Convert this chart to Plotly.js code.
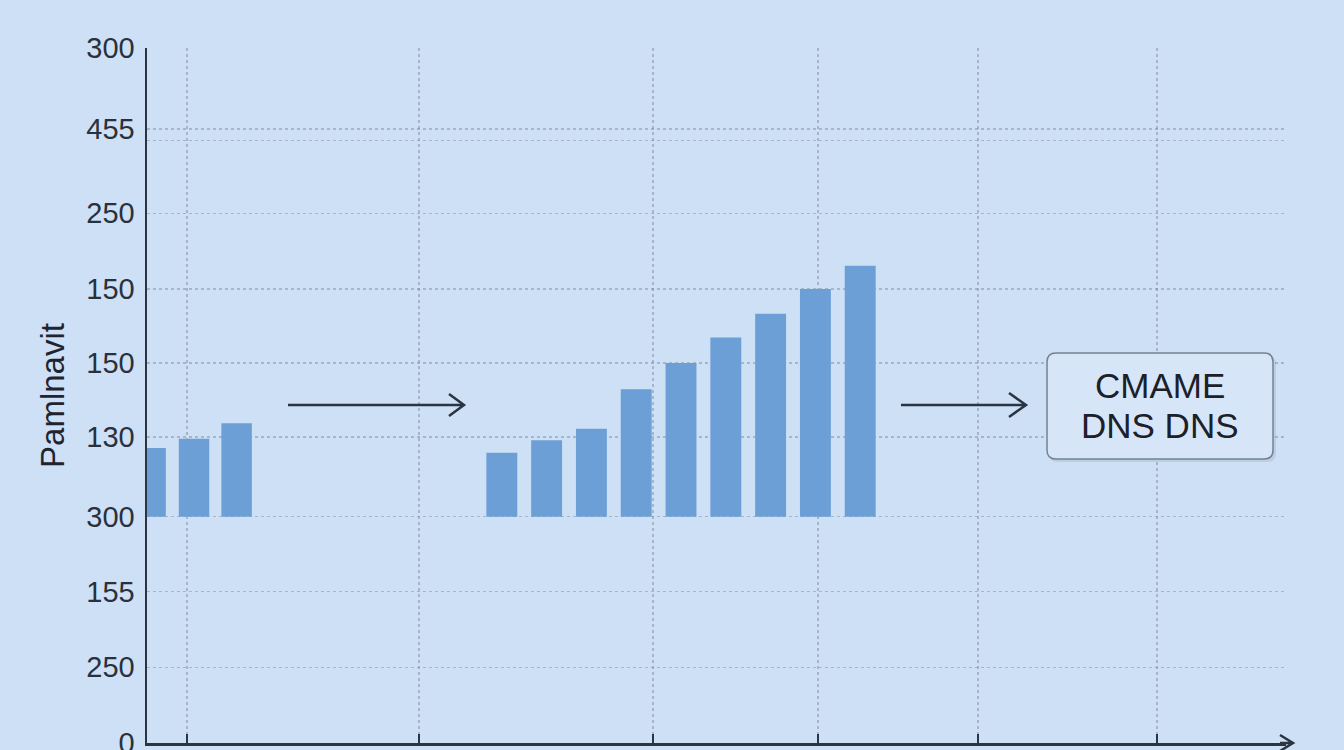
<!DOCTYPE html>
<html>
<head>
<meta charset="utf-8">
<script src="https://cdn.plot.ly/plotly-3.0.1.min.js"></script>
<style>
  html, body { margin: 0; padding: 0; background: #cde0f5; }
  #chart { width: 1344px; height: 750px; }
</style>
</head>
<body>
<div id="chart"></div>
<script>
// values (y in axis units, 0 = bottom line)
const yTickText = ['0', '250', '155', '300', '130', '150', '150', '250', '455', '300'];
const yTickPos = [0, 0.98, 1.96, 2.93, 3.96, 4.92, 5.88, 6.86, 7.95, 9];
const xGridPos = [0.97, 6.15, 11.38, 15.06, 18.63, 22.63];

const barBase = 2.93;
const leftX = [0.16, 1.13, 2.08];
const leftTops = [3.82, 3.94, 4.14];
const midX = [8, 9, 10, 11, 12, 13, 14, 15, 16];
const midTops = [3.76, 3.92, 4.07, 4.58, 4.92, 5.25, 5.56, 5.88, 6.18];

const boxLines = ['CMAME', 'DNS DNS'];
const yTitle = 'Pamlnavit';

// page geometry
const W = 1344, H = 750;
const L = 147, R = 1286, T = 48, B = 743;
const ink = '#2a3442';

// pixel -> paper helpers for the decorations
function px(x) { return (x - L) / (R - L); }
function py(y) { return (B - y) / (B - T); }

function arrowPath(x1, x2, y, back, half) {
  return 'M' + px(x1) + ',' + py(y) + ' L' + px(x2) + ',' + py(y) +
    ' M' + px(x2 - back) + ',' + py(y - half) + ' L' + px(x2) + ',' + py(y) +
    ' L' + px(x2 - back) + ',' + py(y + half);
}

function roundRect(x0, y0, x1, y1, r) {
  const rx = r / (R - L), ry = r / (B - T);
  const a = px(x0), b = px(x1), top = py(y0), bot = py(y1);
  return 'M' + (a + rx) + ',' + top +
    ' L' + (b - rx) + ',' + top + ' Q' + b + ',' + top + ' ' + b + ',' + (top - ry) +
    ' L' + b + ',' + (bot + ry) + ' Q' + b + ',' + bot + ' ' + (b - rx) + ',' + bot +
    ' L' + (a + rx) + ',' + bot + ' Q' + a + ',' + bot + ' ' + a + ',' + (bot + ry) +
    ' L' + a + ',' + (top - ry) + ' Q' + a + ',' + top + ' ' + (a + rx) + ',' + top + ' Z';
}

const barStyle = { color: '#6c9fd5' };

const traces = [
  {
    type: 'bar',
    x: leftX,
    y: leftTops.map(v => v - barBase),
    base: barBase,
    width: 0.68,
    marker: barStyle,
    hoverinfo: 'skip'
  },
  {
    type: 'bar',
    x: midX,
    y: midTops.map(v => v - barBase),
    base: barBase,
    width: 0.69,
    marker: barStyle,
    hoverinfo: 'skip'
  }
];

const gridColor = 'rgba(125,140,160,0.5)';

const layout = {
  width: W,
  height: H,
  margin: { l: L, r: W - R, t: T, b: H - B, pad: 0 },
  paper_bgcolor: '#cde0f5',
  plot_bgcolor: '#cde0f5',
  showlegend: false,
  font: { family: '"Liberation Sans", Arial, sans-serif', color: '#2b313c' },
  xaxis: {
    range: [0.08, 0.08 + (R - L) / 44.8],
    tickmode: 'array',
    tickvals: xGridPos,
    ticktext: xGridPos.map(() => ''),
    ticks: 'inside',
    ticklen: 9,
    tickwidth: 2.5,
    tickcolor: ink,
    showgrid: true,
    gridcolor: gridColor,
    griddash: 'dot',
    gridwidth: 1.5,
    showline: true,
    linecolor: ink,
    linewidth: 2.5,
    zeroline: false,
    fixedrange: true
  },
  yaxis: {
    range: [0, 9],
    tickmode: 'array',
    tickvals: yTickPos,
    ticktext: yTickText,
    ticks: '',
    ticklabelstandoff: 4,
    ticklabeloverflow: 'allow',
    tickfont: { size: 29, color: '#2b313c' },
    showgrid: true,
    gridcolor: gridColor,
    griddash: 'dot',
    gridwidth: 1.5,
    minor: { tickvals: [7.8], showgrid: true, gridcolor: gridColor, griddash: 'dot', gridwidth: 1.5, ticks: '' },
    showline: true,
    linecolor: ink,
    linewidth: 2.5,
    zeroline: false,
    automargin: false,
    fixedrange: true,
    title: { text: yTitle, font: { size: 33, color: '#1f2530' }, standoff: 12 }
  },
  shapes: [
    // box shadow
    { type: 'path', xref: 'paper', yref: 'paper', path: roundRect(1049, 356, 1276, 462, 9),
      fillcolor: 'rgba(60,80,110,0.12)', line: { width: 0 } },
    // label box
    { type: 'path', xref: 'paper', yref: 'paper', path: roundRect(1047, 353, 1273, 459, 9),
      fillcolor: '#d6e6f8', line: { color: '#76818f', width: 1.5 } },
    // arrows
    { type: 'path', xref: 'paper', yref: 'paper', path: arrowPath(288, 464, 405, 15, 11),
      line: { color: ink, width: 2.5 } },
    { type: 'path', xref: 'paper', yref: 'paper', path: arrowPath(901, 1026, 405, 17, 12),
      line: { color: ink, width: 2.5 } },
    // x axis arrow head
    { type: 'path', xref: 'paper', yref: 'paper', path: arrowPath(1280, 1293, 743, 13, 8),
      line: { color: ink, width: 2.5 } }
  ],
  annotations: [
    { xref: 'paper', yref: 'paper', x: px(1160), y: py(385), text: boxLines[0], showarrow: false,
      xanchor: 'center', yanchor: 'middle', font: { size: 35, color: '#1b2029' } },
    { xref: 'paper', yref: 'paper', x: px(1160), y: py(425), text: boxLines[1], showarrow: false,
      xanchor: 'center', yanchor: 'middle', font: { size: 35, color: '#1b2029' } }
  ]
};

Plotly.newPlot('chart', traces, layout, { displayModeBar: false, staticPlot: true });
</script>
</body>
</html>
